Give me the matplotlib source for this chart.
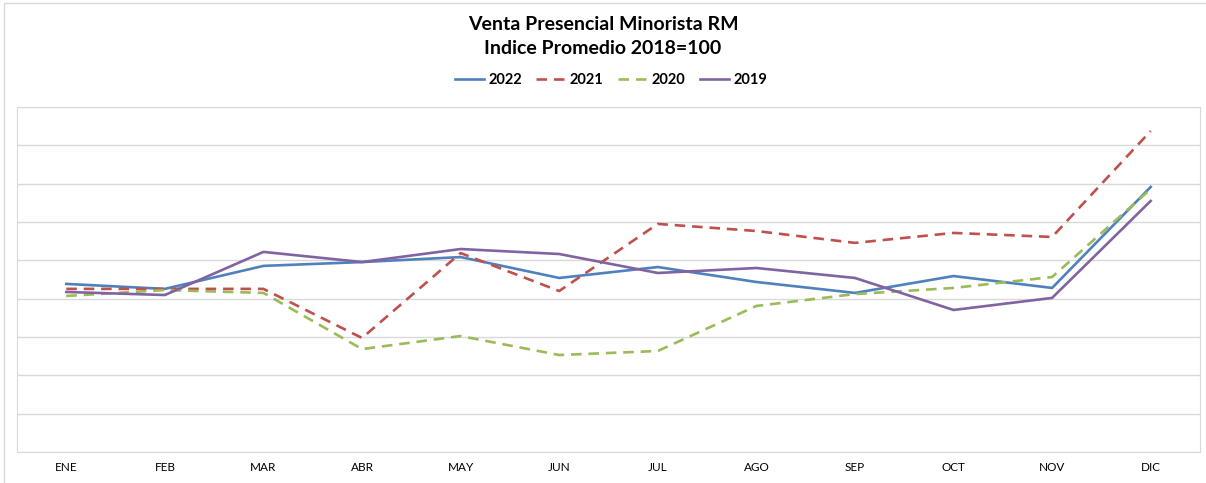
import matplotlib
matplotlib.use("Agg")
import matplotlib.pyplot as plt
from matplotlib.patches import Rectangle

meses = ["ENE", "FEB", "MAR", "ABR", "MAY", "JUN", "JUL", "AGO", "SEP", "OCT", "NOV", "DIC"]

v2022 = [87.7, 85.1, 97.1, 99.1, 101.7, 90.8, 96.5, 88.7, 83.0, 91.8, 85.6, 138.3]
v2021 = [85.1, 85.1, 85.1, 59.5, 103.8, 84.0, 119.0, 115.3, 109.1, 114.3, 112.2, 167.5]
v2020 = [81.4, 84.5, 83.0, 53.7, 60.5, 50.6, 52.7, 76.2, 82.4, 85.6, 91.3, 137.2]
v2019 = [83.5, 81.9, 104.4, 99.1, 105.9, 103.3, 93.4, 96.0, 90.8, 74.1, 80.4, 131.0]

plt.rcParams['font.family'] = ['Lato', 'DejaVu Sans']

fig = plt.figure(figsize=(12.06, 4.83), dpi=100)
ax = fig.add_axes([17 / 1206, 31 / 483, 1183 / 1206, 345 / 483])

x = range(len(meses))
lw = 1.9
ax.plot(x, v2022, color='#4F81BD', lw=lw, label='2022')
ax.plot(x, v2021, color='#C0504D', lw=lw, dashes=(4, 2.6), label='2021')
ax.plot(x, v2020, color='#9BBB59', lw=lw, dashes=(4, 2.6), label='2020')
ax.plot(x, v2019, color='#8064A2', lw=lw, label='2019')

ax.set_xlim(-0.5, len(meses) - 0.5)
ax.set_ylim(0, 180)
ax.set_yticks(range(0, 181, 20))
ax.set_yticklabels([])
ax.tick_params(axis='y', length=0)
ax.set_xticks(list(x))
ax.set_xticklabels(meses, fontsize=8.5)
ax.tick_params(axis='x', length=0, pad=7)
ax.grid(axis='y', color='#D9D9D9', lw=1)
ax.set_axisbelow(True)
for s in ax.spines.values():
    s.set_color('#D9D9D9')

fig.text(0.5, 1 - 24 / 483, "Venta Presencial Minorista RM", ha='center', va='center',
         fontsize=14, fontweight='bold')
fig.text(0.5, 1 - 48 / 483, "Indice Promedio 2018=100", ha='center', va='center',
         fontsize=14, fontweight='bold')

fig.legend(loc='center', bbox_to_anchor=(611 / 1206, 1 - 80 / 483), ncol=4, frameon=False,
           prop={'weight': 'bold', 'size': 10.5}, handlelength=2.0, handletextpad=0.3,
           columnspacing=1.0)

fig.patches.append(Rectangle((4 / 1206, -0.01), 1.1, 1 - 3 / 483 + 0.01,
                             transform=fig.transFigure, fill=False,
                             edgecolor='#D9D9D9', lw=1))

fig.savefig("out.png", dpi=100)
